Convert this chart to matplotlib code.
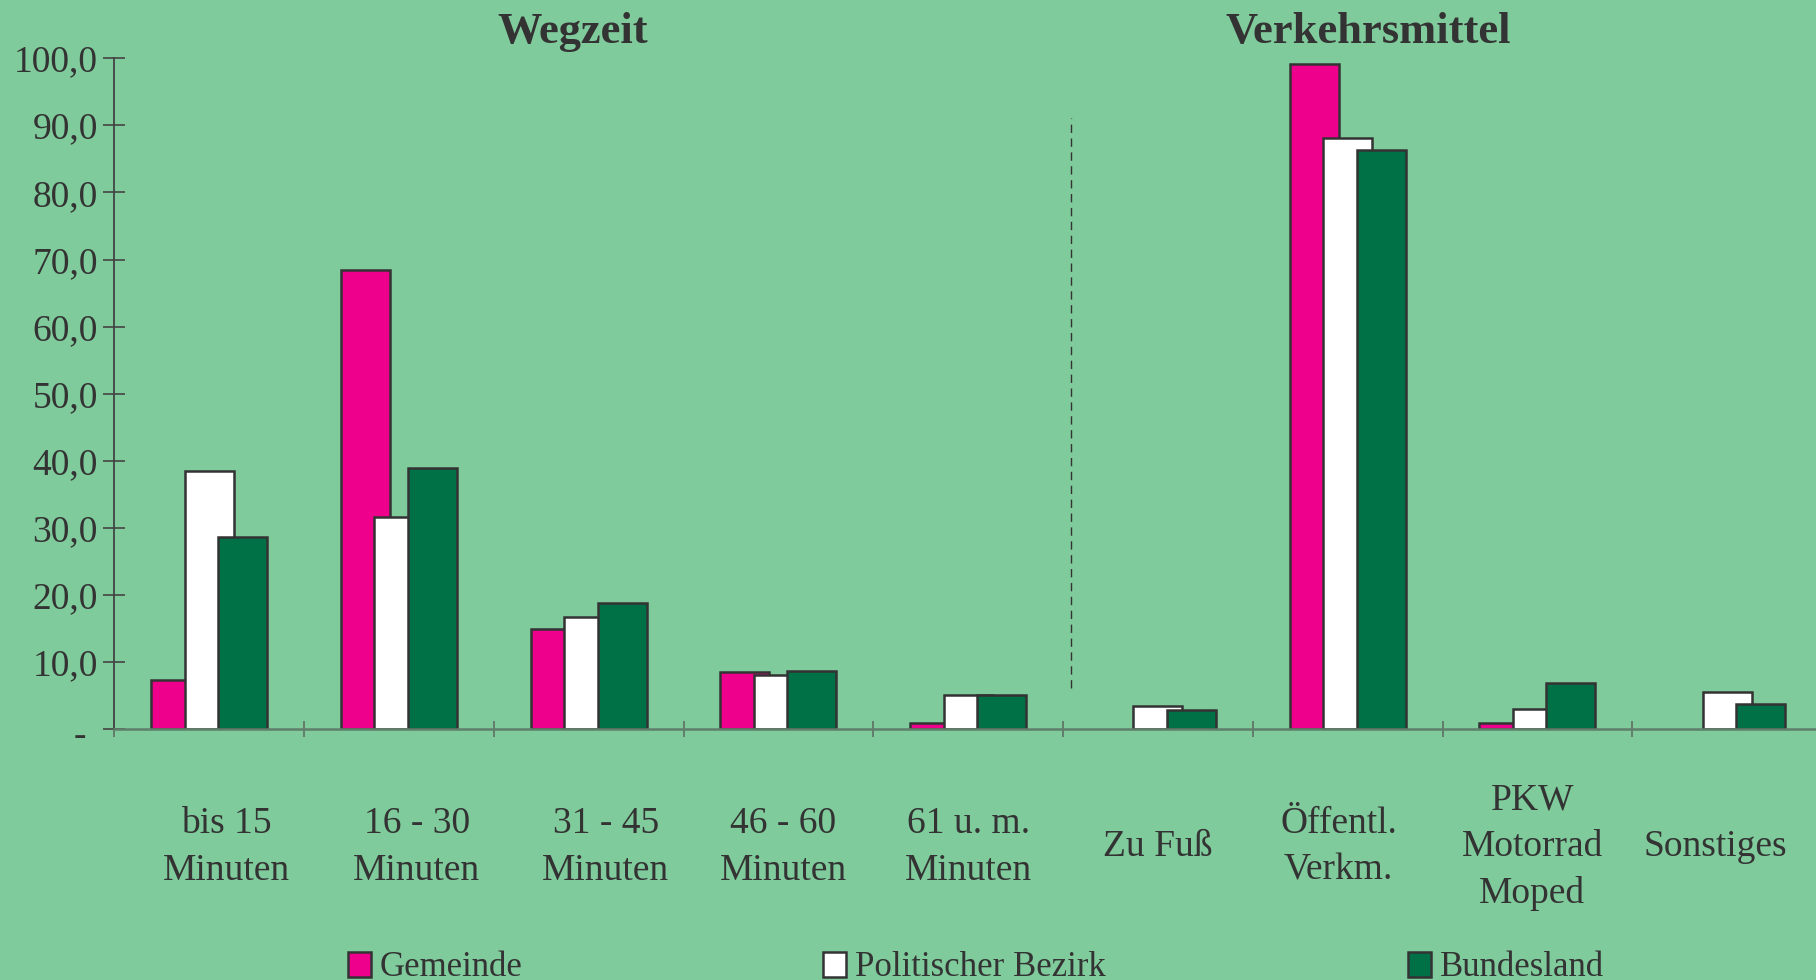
import numpy as np
import matplotlib
matplotlib.use("Agg")
import matplotlib.pyplot as plt
from matplotlib.patches import Rectangle
from matplotlib.transforms import blended_transform_factory, ScaledTranslation

plt.rcParams['font.family'] = ['Liberation Serif', 'DejaVu Serif']

# ---- data ----
categories = ["bis 15\nMinuten", "16 - 30\nMinuten", "31 - 45\nMinuten",
              "46 - 60\nMinuten", "61 u. m.\nMinuten", "Zu Fuß",
              "Öffentl.\nVerkm.", "PKW\nMotorrad\nMoped", "Sonstiges"]
series_names = ["Gemeinde", "Politischer Bezirk", "Bundesland"]
gemeinde = [7.3, 68.4, 14.9, 8.5, 0.9, 0.0, 99.2, 0.9, 0.0]
politischer_bezirk = [38.5, 31.6, 16.7, 8.1, 5.1, 3.4, 88.1, 3.0, 5.5]
bundesland = [28.7, 38.9, 18.8, 8.6, 5.1, 2.9, 86.3, 6.9, 3.8]
yticks = [0, 10, 20, 30, 40, 50, 60, 70, 80, 90, 100]
ytick_labels = ["-", "10,0", "20,0", "30,0", "40,0", "50,0", "60,0",
                "70,0", "80,0", "90,0", "100,0"]
group_titles = ["Wegzeit", "Verkehrsmittel"]

# ---- style ----
W, H = 1816, 980
bg = "#80CB9C"
colors = ["#EE008C", "#FFFFFF", "#007046"]
edge = "#333333"
txt = "#333333"

fig = plt.figure(figsize=(W / 100, H / 100), dpi=100)
fig.patch.set_facecolor(bg)
ax = fig.add_axes([114.3 / W, 251 / H, 1707.75 / W, 670.7 / H])
ax.set_facecolor(bg)
ax.set_xlim(0, len(categories))
ax.set_ylim(0, 100)

x = np.arange(len(categories)) + 0.5
bw = 0.258
off = 0.1766
for i, (vals, col) in enumerate(zip([gemeinde, politischer_bezirk, bundesland], colors)):
    bars = ax.bar(x + (i - 1) * off, vals, width=bw, color=col, edgecolor=edge,
                  linewidth=1.8, zorder=2 + i, label=series_names[i])
    for b, v in zip(bars, vals):
        if v == 0:
            b.set_visible(False)

# spines
for s in ["top", "right"]:
    ax.spines[s].set_visible(False)
ax.spines["left"].set_color("#444444")
ax.spines["left"].set_linewidth(1.3)
ax.spines["bottom"].set_color("#5f7f6a")
ax.spines["bottom"].set_linewidth(1.8)
ax.spines["bottom"].set_zorder(10)

ax.set_yticks(yticks)
ax.set_yticklabels(ytick_labels)
ax.tick_params(axis="y", direction="inout", length=15.8, width=1.2, colors="#444444",
               labelsize=27, labelcolor=txt, pad=4)
zero_lab = ax.get_yticklabels()[0]
zero_lab.set_transform(zero_lab.get_transform() +
                       ScaledTranslation(-12 / 100, -4 / 100, fig.dpi_scale_trans))
ax.set_xticks(np.arange(len(categories) + 1))
ax.set_xticklabels([])
ax.tick_params(axis="x", direction="inout", length=11.5, width=1.2, colors="#5f6f64")

# dashed separator
ax.plot([5.04, 5.04], [6.1, 91.1], color="#333333", lw=1.0, dashes=(6, 4), zorder=1)

# category labels
label_dx = [17, 18, 17, 5, 0, 0, -9, -5, -12]
trans = blended_transform_factory(ax.transData, fig.transFigure)
for xi, lab, dx in zip(x, categories, label_dx):
    t = trans + ScaledTranslation(dx / 100, 0, fig.dpi_scale_trans)
    ax.text(xi, (H - 847) / H, lab, transform=t, ha="center", va="center",
            fontsize=27, color=txt, linespacing=1.46, multialignment="center")

# titles
fig.text(573 / W, 1 - 42.7 / H, group_titles[0], ha="center", va="baseline",
         fontsize=32, fontweight="bold", color=txt)
fig.text(1368 / W, 1 - 42.7 / H, group_titles[1], ha="center", va="baseline",
         fontsize=32, fontweight="bold", color=txt)

# legend
leg_x = [348, 823, 1408]
for lx, name, col in zip(leg_x, series_names, colors):
    fig.patches.append(Rectangle((lx / W, 1 - 976.7 / H), 23 / W, 25 / H,
                                 transform=fig.transFigure, facecolor=col,
                                 edgecolor=edge, linewidth=1.8))
    fig.text((lx + 32) / W, 1 - 976 / H, name, ha="left", va="baseline",
             fontsize=25, color=txt)

fig.savefig("out.png", dpi=100, facecolor=bg)
